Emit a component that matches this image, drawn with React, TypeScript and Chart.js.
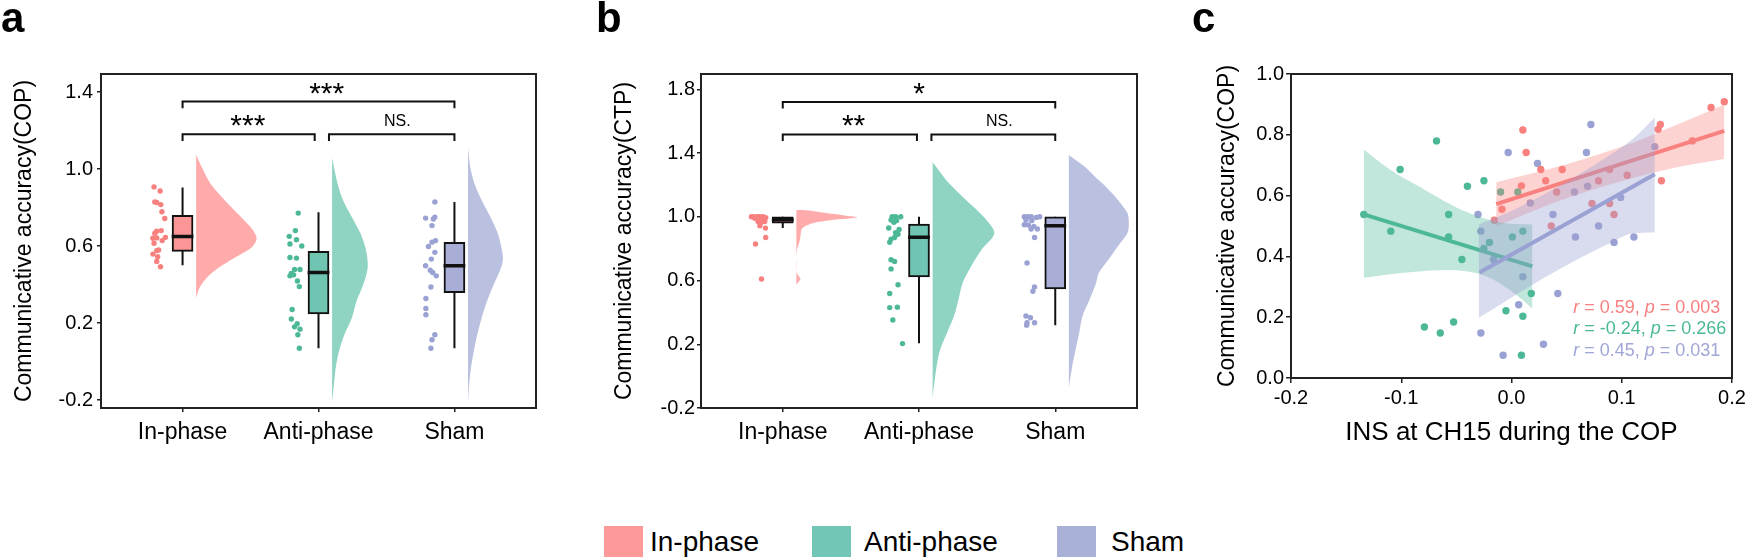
import React, { useEffect, useRef } from 'react';
import { Chart, registerables } from 'chart.js';

Chart.register(...registerables);

const FONT = '"Liberation Sans", Arial, Helvetica, sans-serif';

// ---------- shared ----------
const CATEGORIES = ['In-phase', 'Anti-phase', 'Sham'];
const CATEGORY_POS = [1, 2, 3];
const Y_TICKS_A = [-0.2, 0.2, 0.6, 1.0, 1.4];
const Y_TICKS_B = [-0.2, 0.2, 0.6, 1.0, 1.4, 1.8];
const X_TICKS_C = [-0.2, -0.1, 0.0, 0.1, 0.2];
const Y_TICKS_C = [0, 0.2, 0.4, 0.6, 0.8, 1.0];

// ---------- panel a (COP) ----------
const a_in_vals = [0.907, 0.886, 0.829, 0.826, 0.815, 0.778, 0.743, 0.677, 0.68, 0.666, 0.64, 0.642, 0.645, 0.628, 0.614, 0.579, 0.576, 0.558, 0.544, 0.52, 0.492];
const a_in_jit = [-0.21, -0.165, -0.204, -0.19, -0.16, -0.152, -0.131, -0.191, -0.157, -0.204, -0.218, -0.19, -0.126, -0.15, -0.21, -0.176, -0.19, -0.218, -0.183, -0.19, -0.162];
const a_anti_vals = [0.771, 0.68, 0.65, 0.633, 0.61, 0.6, 0.54, 0.537, 0.478, 0.478, 0.457, 0.445, 0.45, 0.418, 0.389, 0.27, 0.221, 0.196, 0.18, 0.168, 0.139, 0.069];
const a_anti_jit = [-0.149, -0.17, -0.215, -0.162, -0.21, -0.123, -0.21, -0.162, -0.176, -0.136, -0.2, -0.21, -0.183, -0.155, -0.141, -0.194, -0.2, -0.157, -0.176, -0.136, -0.152, -0.141];
const a_sham_vals = [0.829, 0.745, 0.75, 0.74, 0.706, 0.628, 0.62, 0.597, 0.567, 0.532, 0.497, 0.474, 0.462, 0.445, 0.387, 0.327, 0.275, 0.243, 0.139, 0.113, 0.069];
const a_sham_jit = [-0.144, -0.212, -0.144, -0.155, -0.165, -0.139, -0.165, -0.191, -0.144, -0.17, -0.212, -0.178, -0.16, -0.134, -0.173, -0.21, -0.21, -0.21, -0.144, -0.165, -0.173];
const a_q1 = [0.572, 0.247, 0.357];
const a_q3 = [0.759, 0.572, 0.619];
const a_med = [0.649, 0.462, 0.497];
const a_lo = [0.5, 0.069, 0.069];
const a_hi = [0.904, 0.775, 0.829];
const a_violin_in: [number, number][] = [[1.073, 0], [1.012, 0.04], [0.925, 0.105], [0.838, 0.21], [0.751, 0.33], [0.681, 0.42], [0.637, 0.445], [0.594, 0.41], [0.541, 0.29], [0.489, 0.17], [0.436, 0.08], [0.384, 0.026], [0.331, 0]];
const a_violin_anti: [number, number][] = [[1.056, 0], [0.925, 0.04], [0.838, 0.08], [0.751, 0.145], [0.663, 0.21], [0.576, 0.25], [0.488, 0.262], [0.401, 0.23], [0.314, 0.18], [0.226, 0.145], [0.139, 0.09], [0.052, 0.05], [-0.036, 0.026], [-0.123, 0.013], [-0.21, 0]];
const a_violin_sham: [number, number][] = [[1.11, 0], [1.012, 0.016], [0.925, 0.047], [0.838, 0.1], [0.751, 0.165], [0.663, 0.22], [0.576, 0.25], [0.532, 0.257], [0.488, 0.244], [0.401, 0.19], [0.314, 0.14], [0.226, 0.1], [0.139, 0.068], [0.052, 0.042], [-0.036, 0.021], [-0.123, 0.008], [-0.21, 0]];
const a_brackets = [
  { from: 1, to: 3, y: 1.35, drop: 0.035 },
  { from: 1, to: 1.972, y: 1.18, drop: 0.035 },
  { from: 2.077, to: 3, y: 1.18, drop: 0.035 },
];
const a_sig = [
  { x: 2.06, y: 1.419, text: '***', size: 30 },
  { x: 1.48, y: 1.251, text: '***', size: 30 },
  { x: 2.58, y: 1.255, text: 'NS.', size: 16 },
];

// ---------- panel b (CTP) ----------
const b_in_vals = [1.0, 1.0, 1.0, 1.0, 0.995, 0.99, 0.985, 0.985, 0.97, 0.965, 0.97, 0.944, 0.929, 0.87, 0.829, 0.61, 1.0, 1.0, 0.99];
const b_in_jit = [-0.217, -0.193, -0.168, -0.144, -0.125, -0.205, -0.173, -0.144, -0.181, -0.156, -0.132, -0.168, -0.127, -0.125, -0.2, -0.156, -0.23, -0.18, -0.16];
const b_anti_vals = [1.0, 1.0, 1.0, 0.98, 0.977, 0.965, 0.93, 0.92, 0.9, 0.89, 0.87, 0.86, 0.84, 0.73, 0.72, 0.673, 0.573, 0.519, 0.43, 0.433, 0.352, 0.204];
const b_anti_jit = [-0.197, -0.172, -0.134, -0.205, -0.164, -0.184, -0.222, -0.146, -0.172, -0.154, -0.179, -0.205, -0.215, -0.205, -0.179, -0.205, -0.154, -0.215, -0.215, -0.159, -0.192, -0.121];
const b_sham_vals = [1.0, 1.0, 1.0, 0.996, 1.0, 0.98, 0.977, 0.95, 0.948, 0.94, 0.923, 0.923, 0.87, 0.71, 0.56, 0.533, 0.377, 0.366, 0.335, 0.335, 0.32];
const b_sham_jit = [-0.227, -0.202, -0.177, -0.139, -0.114, -0.215, -0.172, -0.227, -0.197, -0.157, -0.131, -0.177, -0.152, -0.207, -0.152, -0.164, -0.215, -0.182, -0.207, -0.152, -0.21];
const b_q1 = [0.96, 0.623, 0.548];
const b_q3 = [1.0, 0.954, 1.0];
const b_med = [0.981, 0.871, 0.944];
const b_lo = [0.929, 0.206, 0.319];
const b_hi = [1.0, 1.0, 1.0];
const b_violin_in: [number, number][] = [[1.042, 0], [1.04, 0.09], [1.023, 0.22], [1.006, 0.366], [0.996, 0.447], [0.981, 0.27], [0.96, 0.12], [0.939, 0.061], [0.919, 0.037], [0.877, 0.03], [0.835, 0.02], [0.793, 0.005], [0.75, 0], [0.66, 0], [0.63, 0.015], [0.61, 0.03], [0.59, 0.015], [0.574, 0]];
const b_violin_anti: [number, number][] = [[1.342, 0], [1.294, 0.043], [1.21, 0.12], [1.106, 0.245], [1.002, 0.372], [0.898, 0.453], [0.794, 0.36], [0.69, 0.283], [0.585, 0.22], [0.481, 0.19], [0.377, 0.157], [0.273, 0.106], [0.169, 0.056], [0.065, 0.03], [-0.04, 0.013], [-0.133, 0]];
const b_violin_sham: [number, number][] = [[1.388, 0], [1.357, 0.05], [1.315, 0.115], [1.252, 0.19], [1.19, 0.27], [1.106, 0.36], [1.023, 0.43], [0.96, 0.44], [0.898, 0.43], [0.815, 0.36], [0.73, 0.29], [0.648, 0.22], [0.585, 0.2], [0.481, 0.152], [0.377, 0.1], [0.273, 0.076], [0.169, 0.05], [0.065, 0.025], [-0.07, 0]];
const b_brackets = [
  { from: 1, to: 3, y: 1.721, drop: 0.042 },
  { from: 1, to: 1.985, y: 1.517, drop: 0.042 },
  { from: 2.091, to: 3, y: 1.517, drop: 0.042 },
];
const b_sig = [
  { x: 2.0, y: 1.804, text: '*', size: 30 },
  { x: 1.52, y: 1.602, text: '**', size: 30 },
  { x: 2.59, y: 1.606, text: 'NS.', size: 16 },
];

// ---------- panel c (scatter + regression) ----------
const c_in_x = [0.0103, 0.0133, -0.0156, -0.0087, 0.009, 0.0266, 0.031, 0.041, 0.046, 0.036, 0.073, 0.079, 0.089, 0.089, 0.093, 0.105, 0.133, 0.135, 0.136, 0.164, 0.181, 0.193];
const c_in_y = [0.816, 0.742, 0.519, 0.555, 0.632, 0.686, 0.649, 0.612, 0.686, 0.5, 0.574, 0.649, 0.686, 0.574, 0.538, 0.667, 0.818, 0.834, 0.649, 0.78, 0.89, 0.909];
const c_anti_x = [-0.134, -0.1095, -0.101, -0.068, -0.079, -0.0646, -0.0525, -0.057, -0.057, -0.045, -0.04, -0.025, -0.025, -0.02, -0.0099, 0.0057, 0.0008, 0.0103, -0.005, 0.0103, 0.018, 0.009];
const c_anti_y = [0.538, 0.483, 0.686, 0.78, 0.168, 0.148, 0.184, 0.538, 0.464, 0.39, 0.631, 0.649, 0.426, 0.446, 0.612, 0.612, 0.464, 0.483, 0.221, 0.203, 0.278, 0.075];
const c_sham_x = [-0.0304, -0.0278, -0.003, 0.0236, 0.017, 0.0103, -0.0163, 0.0065, -0.0278, -0.0076, 0.029, 0.042, 0.0376, 0.057, 0.058, 0.069, 0.068, 0.072, 0.079, 0.093, 0.099, 0.111, 0.13];
const c_sham_y = [0.538, 0.483, 0.742, 0.706, 0.576, 0.333, 0.39, 0.241, 0.148, 0.075, 0.111, 0.278, 0.538, 0.612, 0.464, 0.631, 0.742, 0.834, 0.5, 0.446, 0.594, 0.464, 0.761];
const c_in_line: [number, number][] = [[-0.0139, 0.572], [0.193, 0.813]];
const c_anti_line: [number, number][] = [[-0.134, 0.538], [0.019, 0.367]];
const c_sham_line: [number, number][] = [[-0.029, 0.347], [0.13, 0.67]];
const c_in_band_x = [-0.0139, 0.02, 0.05, 0.08, 0.11, 0.15, 0.193];
const c_in_band_hi = [0.644, 0.674, 0.703, 0.737, 0.774, 0.833, 0.9];
const c_in_band_lo = [0.499, 0.55, 0.591, 0.627, 0.658, 0.693, 0.72];
const c_anti_band_x = [-0.134, -0.11, -0.085, -0.06, -0.04, -0.02, 0.0, 0.019];
const c_anti_band_hi = [0.752, 0.685, 0.632, 0.58, 0.545, 0.52, 0.507, 0.505];
const c_anti_band_lo = [0.33, 0.341, 0.35, 0.355, 0.35, 0.33, 0.285, 0.229];
const c_sham_band_x = [-0.0297, 0.0, 0.03, 0.06, 0.09, 0.11, 0.13];
const c_sham_band_hi = [0.505, 0.549, 0.605, 0.667, 0.735, 0.786, 0.857];
const c_sham_band_lo = [0.198, 0.265, 0.331, 0.391, 0.445, 0.476, 0.479];
const c_stats_r = ['0.59', '-0.24', '0.45'];
const c_stats_p = ['0.003', '0.266', '0.031'];

// ---------- styles ----------
const POINT_COLORS = ['#F8817F', '#4DB898', '#9AA1D3'];
const BOX_COLORS = ['#FC9696', '#6FC4B2', '#A8AED6'];
const VIOLIN_COLORS = ['#FFABAB', '#8FD3C3', '#BAC0E0'];
const LEGEND_COLORS = ['#FE9999', '#72C6B5', '#AAB1D6'];
const BAND_COLORS = ['rgba(248,129,127,0.35)', 'rgba(77,184,152,0.35)', 'rgba(154,161,211,0.38)'];
const STAT_COLORS = ['#F88080', '#4DB898', '#A0A6D6'];
const VIOLIN_OFFSET = 0.1;
const BOX_HALF = 0.08;

type Pt = { x: number; y: number | null };

interface RainPanel {
  vals: number[][];
  jit: number[][];
  q1: number[]; q3: number[]; med: number[]; lo: number[]; hi: number[];
  violins: [number, number][][];
  brackets: { from: number; to: number; y: number; drop: number }[];
}

function rainDatasets(p: RainPanel) {
  const ds: any[] = [];
  p.violins.forEach((prof, i) => {
    const base = CATEGORY_POS[i] + VIOLIN_OFFSET;
    ds.push({
      type: 'line', data: prof.map(([y, w]) => ({ x: base + w, y })),
      fill: 'shape', backgroundColor: VIOLIN_COLORS[i], borderColor: 'rgba(0,0,0,0)', borderWidth: 0,
      pointRadius: 0, tension: 0.3, order: 50,
    });
  });
  const wh: Pt[] = [];
  CATEGORY_POS.forEach((c, i) => { wh.push({ x: c, y: p.lo[i] }, { x: c, y: p.hi[i] }, { x: c, y: null }); });
  ds.push({ type: 'line', data: wh, borderColor: '#111', borderWidth: 2, pointRadius: 0, fill: false, order: 40 });
  ds.push({
    type: 'bar', data: CATEGORY_POS.map((c, i) => ({ x: c, y: [p.q1[i], p.q3[i]] })),
    backgroundColor: BOX_COLORS, borderColor: '#111', borderWidth: 2, borderSkipped: false, barThickness: 21, order: 30,
  });
  const md: Pt[] = [];
  CATEGORY_POS.forEach((c, i) => { md.push({ x: c - BOX_HALF, y: p.med[i] }, { x: c + BOX_HALF, y: p.med[i] }, { x: c, y: null }); });
  ds.push({ type: 'line', data: md, borderColor: '#111', borderWidth: 3.5, pointRadius: 0, fill: false, order: 20 });
  p.vals.forEach((vals, i) => {
    ds.push({
      type: 'scatter', data: vals.map((v, k) => ({ x: CATEGORY_POS[i] + p.jit[i][k], y: v })),
      backgroundColor: POINT_COLORS[i], pointRadius: 2.7, pointBorderWidth: 0, borderWidth: 0, order: 10,
    });
  });
  const br: Pt[] = [];
  p.brackets.forEach((b) => {
    br.push({ x: b.from, y: b.y - b.drop }, { x: b.from, y: b.y }, { x: b.to, y: b.y }, { x: b.to, y: b.y - b.drop }, { x: b.to, y: null });
  });
  ds.push({ type: 'line', data: br, borderColor: '#111', borderWidth: 2, pointRadius: 0, fill: false, borderJoinStyle: 'miter', order: 5 });
  return ds;
}

const framePlugin = {
  id: 'frame',
  afterDraw(chart: any) {
    const { ctx, chartArea: a } = chart;
    ctx.save();
    ctx.strokeStyle = '#222';
    ctx.lineWidth = 2;
    ctx.strokeRect(a.left, a.top, a.right - a.left, a.bottom - a.top);
    ctx.restore();
  },
};

function sigPlugin(labels: { x: number; y: number; text: string; size: number }[]) {
  return {
    id: 'sigText',
    afterDatasetsDraw(chart: any) {
      const { ctx, scales } = chart;
      ctx.save();
      ctx.fillStyle = '#000';
      ctx.textAlign = 'center';
      ctx.textBaseline = 'alphabetic';
      labels.forEach((l) => {
        ctx.font = `${l.size}px ${FONT}`;
        const m = ctx.measureText(l.text);
        const px = scales.x.getPixelForValue(l.x);
        const py = scales.y.getPixelForValue(l.y);
        ctx.fillText(l.text, px, py + (m.actualBoundingBoxAscent - m.actualBoundingBoxDescent) / 2);
      });
      ctx.restore();
    },
  };
}

const statsPlugin = {
  id: 'stats',
  afterDatasetsDraw(chart: any) {
    const { ctx, scales } = chart;
    const rowsY = [0.23, 0.161, 0.089];
    ctx.save();
    ctx.textBaseline = 'middle';
    ctx.textAlign = 'left';
    c_stats_r.forEach((r, i) => {
      let px = scales.x.getPixelForValue(0.056);
      const py = scales.y.getPixelForValue(rowsY[i]);
      const parts: [string, boolean][] = [['r', true], [` = ${r}, `, false], ['p', true], [` = ${c_stats_p[i]}`, false]];
      ctx.fillStyle = STAT_COLORS[i];
      parts.forEach(([t, it]) => {
        ctx.font = `${it ? 'italic ' : ''}18px ${FONT}`;
        ctx.fillText(t, px, py);
        px += ctx.measureText(t).width;
      });
    });
    ctx.restore();
  },
};

function gridOpts(len: number) {
  return { drawOnChartArea: false, drawTicks: true, tickLength: len, color: '#222', lineWidth: 1.5, offset: false };
}

function rainConfig(p: RainPanel, sig: any[], yMin: number, yMax: number, yTicks: number[], yTitle: string, yWidth: number, titlePad: number, rightPad: number, tickPad: number): any {
  return {
    type: 'scatter',
    data: { datasets: rainDatasets(p) },
    options: {
      animation: false, responsive: false, events: [],
      layout: { padding: { top: 74, right: rightPad, left: 0, bottom: 0 } },
      plugins: { legend: { display: false }, tooltip: { enabled: false } },
      scales: {
        x: {
          type: 'linear', min: 0.4, max: 3.6, offset: false,
          afterBuildTicks: (s: any) => { s.ticks = CATEGORY_POS.map((v) => ({ value: v })); },
          afterFit: (s: any) => { s.height = 62; },
          ticks: { callback: (v: any) => CATEGORIES[Math.round(v) - 1], font: { size: 23, family: FONT }, color: '#000', padding: 7, maxRotation: 0, autoSkip: false },
          grid: gridOpts(4), border: { display: false },
        },
        y: {
          type: 'linear', min: yMin, max: yMax, beginAtZero: false,
          afterBuildTicks: (s: any) => { s.ticks = yTicks.map((v) => ({ value: v })); },
          afterFit: (s: any) => { s.width = yWidth; },
          ticks: { callback: (v: any) => Number(v).toFixed(1), font: { size: 20, family: FONT }, color: '#000', padding: tickPad },
          grid: gridOpts(4), border: { display: false },
          title: { display: true, text: yTitle, color: '#000', font: { size: 23, family: FONT, lineHeight: 1.2 }, padding: { top: titlePad, bottom: 0 } },
        },
      },
    },
    plugins: [framePlugin, sigPlugin(sig)],
  };
}

function panelA() {
  return rainConfig({
    vals: [a_in_vals, a_anti_vals, a_sham_vals], jit: [a_in_jit, a_anti_jit, a_sham_jit],
    q1: a_q1, q3: a_q3, med: a_med, lo: a_lo, hi: a_hi,
    violins: [a_violin_in, a_violin_anti, a_violin_sham], brackets: a_brackets,
  }, a_sig, -0.2416, 1.4935, Y_TICKS_A, 'Communicative accuracy(COP)', 101, 11.2, 24, 4);
}

function panelB() {
  return rainConfig({
    vals: [b_in_vals, b_anti_vals, b_sham_vals], jit: [b_in_jit, b_anti_jit, b_sham_jit],
    q1: b_q1, q3: b_q3, med: b_med, lo: b_lo, hi: b_hi,
    violins: [b_violin_in, b_violin_anti, b_violin_sham], brackets: b_brackets,
  }, b_sig, -0.2, 1.896, Y_TICKS_B, 'Communicative accuracy(CTP)', 141, 51.2, 23, 2);
}

function panelC(): any {
  const xs = [c_in_x, c_anti_x, c_sham_x];
  const ys = [c_in_y, c_anti_y, c_sham_y];
  const lines = [c_in_line, c_anti_line, c_sham_line];
  const bx = [c_in_band_x, c_anti_band_x, c_sham_band_x];
  const bhi = [c_in_band_hi, c_anti_band_hi, c_sham_band_hi];
  const blo = [c_in_band_lo, c_anti_band_lo, c_sham_band_lo];
  const ds: any[] = [];
  xs.forEach((x, i) => {
    ds.push({
      type: 'scatter', data: x.map((v, k) => ({ x: v, y: ys[i][k] })),
      backgroundColor: POINT_COLORS[i], pointRadius: 3.7, pointBorderWidth: 0, borderWidth: 0, order: 100,
    });
  });
  let order = 90;
  [0, 1, 2].forEach((i) => {
    ds.push({
      type: 'line', data: bx[i].map((v, k) => ({ x: v, y: blo[i][k] })),
      borderColor: 'rgba(0,0,0,0)', borderWidth: 0, pointRadius: 0, fill: false,
      cubicInterpolationMode: 'monotone', order: order--,
    });
    ds.push({
      type: 'line', data: bx[i].map((v, k) => ({ x: v, y: bhi[i][k] })),
      borderColor: 'rgba(0,0,0,0)', borderWidth: 0, pointRadius: 0, fill: '-1', backgroundColor: BAND_COLORS[i],
      cubicInterpolationMode: 'monotone', order: order--,
    });
    ds.push({
      type: 'line', data: lines[i].map(([x, y]) => ({ x, y })),
      borderColor: POINT_COLORS[i], borderWidth: 4, pointRadius: 0, fill: false, order: order--,
    });
  });
  return {
    type: 'scatter',
    data: { datasets: ds },
    options: {
      animation: false, responsive: false, events: [],
      layout: { padding: { top: 74, right: 18, left: 0, bottom: 0 } },
      plugins: { legend: { display: false }, tooltip: { enabled: false } },
      scales: {
        x: {
          type: 'linear', min: -0.2, max: 0.2, offset: false,
          afterBuildTicks: (s: any) => { s.ticks = X_TICKS_C.map((v) => ({ value: v })); },
          afterFit: (s: any) => { s.height = 92; },
          ticks: { callback: (v: any) => Number(v).toFixed(1), font: { size: 20, family: FONT }, color: '#000', padding: 3, maxRotation: 0, autoSkip: false },
          grid: gridOpts(5), border: { display: false },
          title: { display: true, text: 'INS at CH15 during the COP', color: '#000', font: { size: 26, family: FONT, lineHeight: 1.2 }, padding: { top: 0, bottom: 21.4 } },
        },
        y: {
          type: 'linear', min: 0, max: 1,
          afterBuildTicks: (s: any) => { s.ticks = Y_TICKS_C.map((v) => ({ value: v })); },
          afterFit: (s: any) => { s.width = 131; },
          ticks: { callback: (v: any) => Number(v).toFixed(1), font: { size: 20, family: FONT }, color: '#000', padding: 2 },
          grid: gridOpts(5), border: { display: false },
          title: { display: true, text: 'Communicative accuracy(COP)', color: '#000', font: { size: 23, family: FONT, lineHeight: 1.2 }, padding: { top: 54.2, bottom: 0 } },
        },
      },
    },
    plugins: [framePlugin, statsPlugin],
  };
}

function Panel({ left, width, height, make }: { left: number; width: number; height: number; make: () => any }) {
  const ref = useRef<HTMLCanvasElement>(null);
  useEffect(() => {
    const chart = new Chart(ref.current as HTMLCanvasElement, make());
    return () => chart.destroy();
  }, []);
  return <canvas ref={ref} width={width} height={height} style={{ position: 'absolute', left, top: 0, width, height }} />;
}

const LETTERS = [
  { t: 'a', left: 1 },
  { t: 'b', left: 596 },
  { t: 'c', left: 1192 },
];
const LEGEND_SWATCH_LEFTS = [604, 812, 1057];
const LEGEND_TEXT_LEFTS = [650, 864, 1111];

export default function App() {
  return (
    <div style={{ position: 'absolute', left: 0, top: 0, width: 1750, height: 559, background: '#fff', overflow: 'hidden', fontFamily: FONT }}>
      <Panel left={0} width={560} height={470} make={panelA} />
      <Panel left={560} width={600} height={470} make={panelB} />
      <Panel left={1160} width={590} height={470} make={panelC} />
      {LETTERS.map((l) => (
        <div key={l.t} style={{ position: 'absolute', left: l.left, top: -3, fontSize: 42, lineHeight: '42px', fontWeight: 'bold', color: '#000' }}>{l.t}</div>
      ))}
      {CATEGORIES.map((c, i) => (
        <React.Fragment key={c}>
          <div style={{ position: 'absolute', left: LEGEND_SWATCH_LEFTS[i], top: 526, width: 39, height: 31, background: LEGEND_COLORS[i] }} />
          <div style={{ position: 'absolute', left: LEGEND_TEXT_LEFTS[i], top: 526, fontSize: 28, lineHeight: '31px', color: '#000', whiteSpace: 'nowrap' }}>{c}</div>
        </React.Fragment>
      ))}
    </div>
  );
}
